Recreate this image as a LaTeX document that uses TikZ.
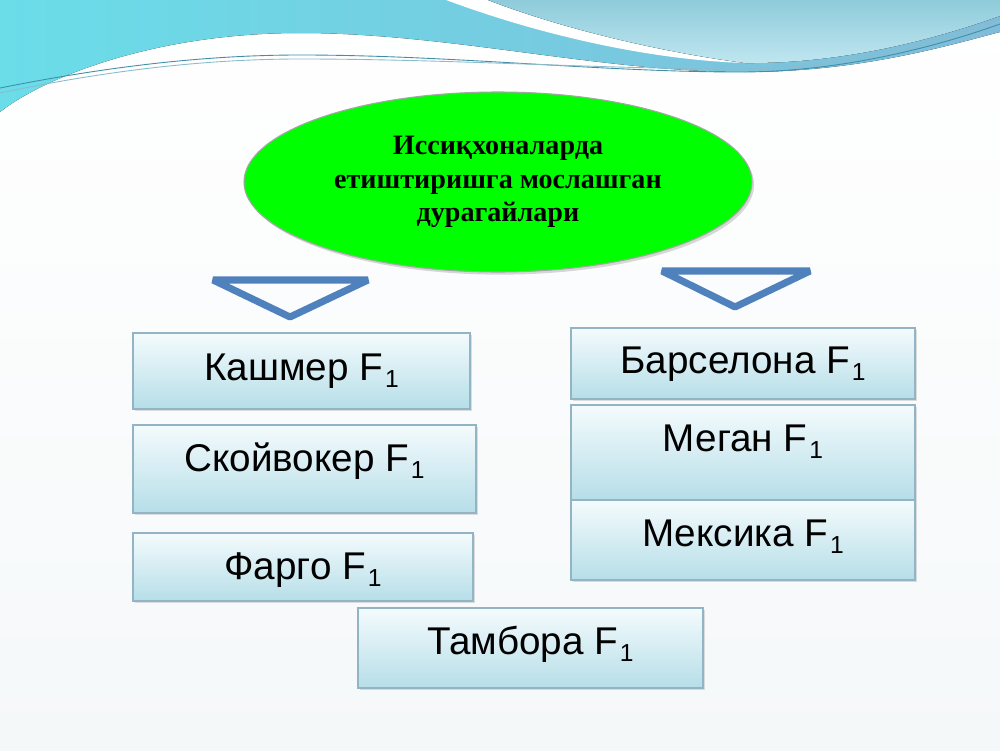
\documentclass[tikz,border=0pt]{standalone}
\usepackage{fontspec}
\setmainfont{Liberation Sans}
\newfontfamily\ovalfont{Liberation Serif}
\usetikzlibrary{shapes.geometric,shadows}
\definecolor{WaveBlue}{HTML}{80BCD9}
\definecolor{WaveCyan}{HTML}{6ADDE9}
\definecolor{WaveLight}{HTML}{96D6E6}
\definecolor{WaveLine}{HTML}{3F8FA8}
\definecolor{ArrowBlue}{HTML}{4F81BD}
\definecolor{BoxEdge}{HTML}{93B4C4}
\definecolor{BoxTop}{HTML}{F4FBFD}
\definecolor{BoxBottom}{HTML}{B6DEE8}
\definecolor{OvalGreen}{HTML}{00FF00}
\definecolor{PageTint}{HTML}{F5F8F9}
\newcommand{\fone}{F\kern1pt\raisebox{-4pt}{\fontsize{14}{14}\selectfont 1}}

\tikzset{
  itembox/.style={draw=BoxEdge, line width=0.8pt,
    top color=BoxTop, bottom color=BoxBottom,
    font=\fontsize{22}{26}\selectfont, inner sep=0pt,
    text height=16pt, text depth=5pt,
    drop shadow={opacity=0.25, shadow xshift=1.2pt, shadow yshift=-1.2pt}},
  oval/.style={ellipse, draw=black!35, line width=0.6pt, fill=OvalGreen,
    minimum width=101.6mm, minimum height=36mm, inner sep=0pt,
    align=center, font=\ovalfont\bfseries\fontsize{16}{19}\selectfont,
    drop shadow={opacity=0.3, shadow xshift=1.2pt, shadow yshift=-1.5pt}},
  pointer/.style={draw=ArrowBlue, line width=4pt, line join=bevel}
}

\begin{document}
\begin{tikzpicture}[x=0.2mm, y=-0.2mm]
  \useasboundingbox (0,0) rectangle (1000,750);
  % page and wave at the top
  \fill[top color=white, bottom color=PageTint] (0,0) rectangle (1000,750);
  \fill[shading angle=60, left color=WaveCyan, right color=WaveBlue]
    (0,0) -- (0,112) .. controls (40,80) and (150,33) .. (300,33)
    .. controls (450,33) and (600,72) .. (745,72)
    .. controls (860,72) and (950,45) .. (1000,32) -- (1000,0) -- cycle;
  \fill[white] (446,0) .. controls (540,35) and (650,60) .. (745,63)
    .. controls (660,52) and (560,28) .. (488,0) -- cycle;
  \fill[top color=WaveLight!95!black, bottom color=WaveLight!60]
    (488,0) .. controls (560,28) and (660,52) .. (745,63)
    .. controls (860,64) and (960,30) .. (1000,16) -- (1000,0) -- cycle;
  \draw[WaveLine, line width=0.5pt]
    (0,88) .. controls (100,68) and (200,55) .. (300,55)
    .. controls (450,55) and (600,72) .. (740,72)
    .. controls (850,72) and (950,42) .. (1000,24);
  \draw[WaveLine!60, line width=0.5pt]
    (0,93) .. controls (100,72) and (200,59) .. (300,59)
    .. controls (450,59) and (600,69) .. (740,69)
    .. controls (850,69) and (950,40) .. (1000,21);

  % title
  \node[oval] (title) at (498,182)
    {Иссиқхоналарда\\етиштиришга мослашган\\дурагайлари};

  % pointers
  \draw[pointer] (213,280) -- (368,280) -- (290,317) -- cycle;
  \draw[pointer] (662,271) -- (810,271) -- (735,307) -- cycle;

  % left column
  \node[itembox, minimum width=67.4mm, minimum height=15.2mm]
    (kashmer) at (301.5,371) {Кашмер \fone};
  \node[itembox, minimum width=68.6mm, minimum height=17.6mm, text depth=13.4pt]
    (skoyvoker) at (304.5,469) {Скойвокер \fone};
  \node[itembox, minimum width=68mm, minimum height=13.6mm, text depth=2pt]
    (fargo) at (303,567) {Фарго \fone};
  \node[itembox, minimum width=69mm, minimum height=16mm, text depth=8.8pt]
    (tambora) at (530.5,648) {Тамбора \fone};

  % right column
  \node[itembox, minimum width=68.8mm, minimum height=14.2mm]
    (barselona) at (743,363.5) {Барселона \fone};
  \node[itembox, minimum width=68.8mm, minimum height=19mm, text depth=17.4pt]
    (megan) at (743,452.5) {Меган \fone};
  \node[itembox, minimum width=68.8mm, minimum height=16mm, text depth=8.8pt]
    (meksika) at (743,540) {Мексика \fone};
\end{tikzpicture}
\end{document}
